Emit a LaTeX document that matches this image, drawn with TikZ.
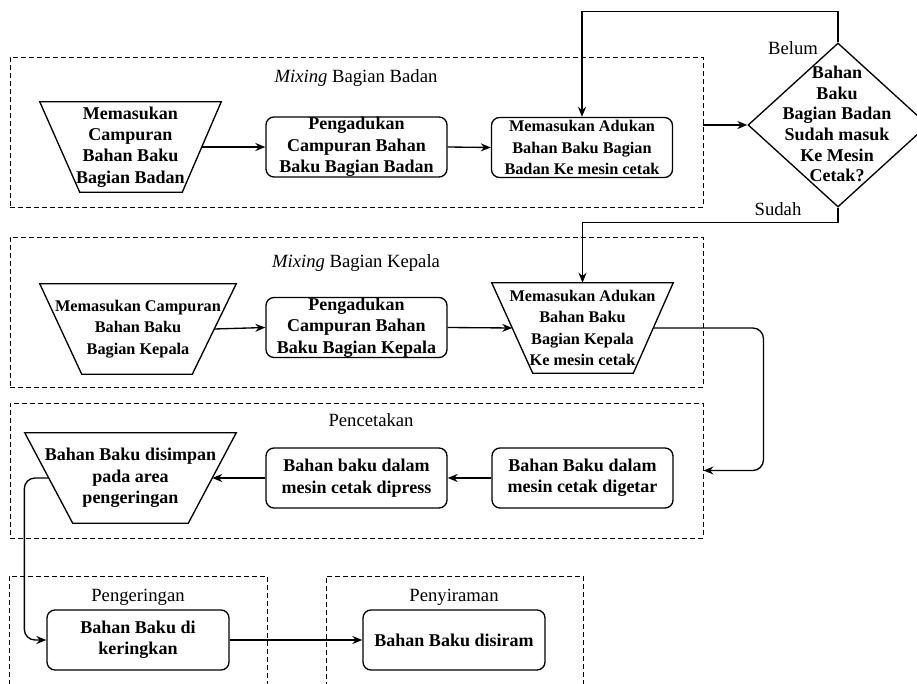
\documentclass[tikz,border=0pt]{standalone}
\usepackage{fontspec}
\setmainfont{Liberation Serif}
\usetikzlibrary{arrows.meta,calc,shapes.geometric,fit}
\newcommand{\bigf}{\fontsize{13.5pt}{16.1pt}\selectfont}
\newcommand{\smallf}{\fontsize{12.2pt}{16.1pt}\selectfont}
\newcommand{\titlef}{\fontsize{14pt}{16pt}\selectfont}
\begin{document}
\begin{tikzpicture}[x=0.75pt,y=-0.75pt,
  grp/.style={draw, dash pattern=on 3.75pt off 2.25pt, line width=0.7pt, inner sep=0pt},
  ttl/.style={font=\titlef, inner sep=0pt},
  lbl/.style={font=\titlef, inner sep=0pt},
  rbox/.style={draw, line width=1pt, rounded corners=6pt, minimum width=135.75pt, minimum height=45pt, inner sep=0pt, align=center, font=\bfseries\bigf},
  trapbox/.style={minimum height=67.5pt, inner sep=0pt, align=center},
  trapline/.style={draw, line width=1pt},
  conn/.style={draw, line width=1pt, -{Stealth[length=7.5pt,width=6pt]}}
]
\useasboundingbox (0,0) rectangle (917,684);
\clip (0,0) rectangle (917,684);

% groups
\node[grp, fit={(10,57) (703,207)}] (g1) {};
\node[grp, fit={(10,237) (703,387)}] (g2) {};
\node[grp, fit={(10,403) (703,538)}] (g3) {};
\node[grp, fit={(9,576) (267,700)}] (g4) {};
\node[grp, fit={(326,576) (583,700)}] (g5) {};

\node[ttl] (tt1) at (356,78) {\textit{Mixing} Bagian Badan};
\node[ttl] (tt2) at (356,263) {\textit{Mixing} Bagian Kepala};
\node[ttl] (tt3) at (371,420) {Pencetakan};
\node[ttl] (tt4) at (138,597) {Pengeringan};
\node[ttl] (tt5) at (454,597) {Penyiraman};

% row 1
\node[trapbox, minimum width=135.75pt, font=\bfseries\bigf] (t1) at (130.5,147) {Memasukan\\Campuran\\Bahan Baku\\Bagian Badan};
\draw[trapline] (t1.north west) -- (t1.north east) -- ($(t1.south east)+(-39,0)$) -- ($(t1.south west)+(40,0)$) -- cycle;
\node[rbox] (b2) at (356.5,147) {Pengadukan\\Campuran Bahan\\Baku Bagian Badan};
\node[rbox, font=\bfseries\smallf] (b3) at (582,147.5) {Memasukan Adukan\\Bahan Baku Bagian\\Badan Ke mesin cetak};
\node[draw, diamond, line width=1pt, minimum width=135pt, minimum height=123pt, inner sep=0pt] (d4) at (838,125) {};
\node[align=center, font=\bfseries\fontsize{13.5pt}{15.5pt}\selectfont, inner sep=0pt] (d4t) at (837,124) {Bahan\\Baku\\Bagian Badan\\Sudah masuk\\Ke Mesin\\Cetak?};
\node[lbl] (lb) at (793,48) {Belum};
\node[lbl] (ls) at (778,209) {Sudah};

% row 2
\node[trapbox, minimum width=147pt, font=\bfseries\smallf] (t5) at (138,329) {Memasukan Campuran\\Bahan Baku\\Bagian Kepala};
\draw[trapline] (t5.north west) -- (t5.north east) -- ($(t5.south east)+(-44,0)$) -- ($(t5.south west)+(42,0)$) -- cycle;
\node[rbox] (b6) at (356.5,327.5) {Pengadukan\\Campuran Bahan\\Baku Bagian Kepala};
\node[trapbox, minimum width=135.75pt, font=\bfseries\smallf] (t7) at (582.5,328) {Memasukan Adukan\\Bahan Baku\\Bagian Kepala\\Ke mesin cetak};
\draw[trapline] (t7.north west) -- (t7.north east) -- ($(t7.south east)+(-40,0)$) -- ($(t7.south west)+(41,0)$) -- cycle;

% row 3
\node[trapbox, minimum width=158.25pt, font=\bfseries\bigf] (t8) at (130.5,478) {Bahan Baku disimpan\\pada area\\pengeringan};
\draw[trapline] (t8.north west) -- (t8.north east) -- ($(t8.south east)+(-48,0)$) -- ($(t8.south west)+(48,0)$) -- cycle;
\node[rbox] (b9) at (356.5,478) {Bahan baku dalam\\mesin cetak dipress};
\node[rbox] (b10) at (582.5,478) {Bahan Baku dalam\\mesin cetak digetar};

% row 4
\node[rbox, minimum width=136.5pt] (b11) at (138,640) {Bahan Baku di\\keringkan};
\node[rbox, minimum width=136.5pt] (b12) at (454,640) {Bahan Baku disiram};

% side coordinates
\coordinate (t1r) at ($(t1.east)+(-19.5,0)$);
\coordinate (t5r) at ($(t5.east)+(-22,0)$);
\coordinate (t7l) at ($(t7.west)+(20.5,0)$);
\coordinate (t7r) at ($(t7.east)+(-20,0)$);
\coordinate (t8r) at ($(t8.east)+(-24,0)$);
\coordinate (t8l) at ($(t8.west)+(24,0)$);

% connectors
\draw[conn] (t1r) -- (b2.west);
\draw[conn] (b2.east) -- (b3.west);
\draw[conn] (g1.east |- d4.west) -- (d4.west);
\draw[conn] (d4.north) -- ++(0,-31) -| (b3.north);
\draw[conn] (d4.south) -- ++(0,15) -| (t7.north);
\draw[conn] (t5r) -- (b6.west);
\draw[conn] (b6.east) -- (t7l);
\draw[conn, rounded corners=8pt] (t7r) -| ($(g3.east)+(60,0)$) -- (g3.east);
\draw[conn] (b10.west) -- (b9.east);
\draw[conn] (b9.west) -- (t8r);
\draw[conn, rounded corners=8pt] (t8l) -| ($(b11.west)+(-22,0)$) -- (b11.west);
\draw[conn] (b11.east) -- (b12.west);
\end{tikzpicture}
\end{document}
